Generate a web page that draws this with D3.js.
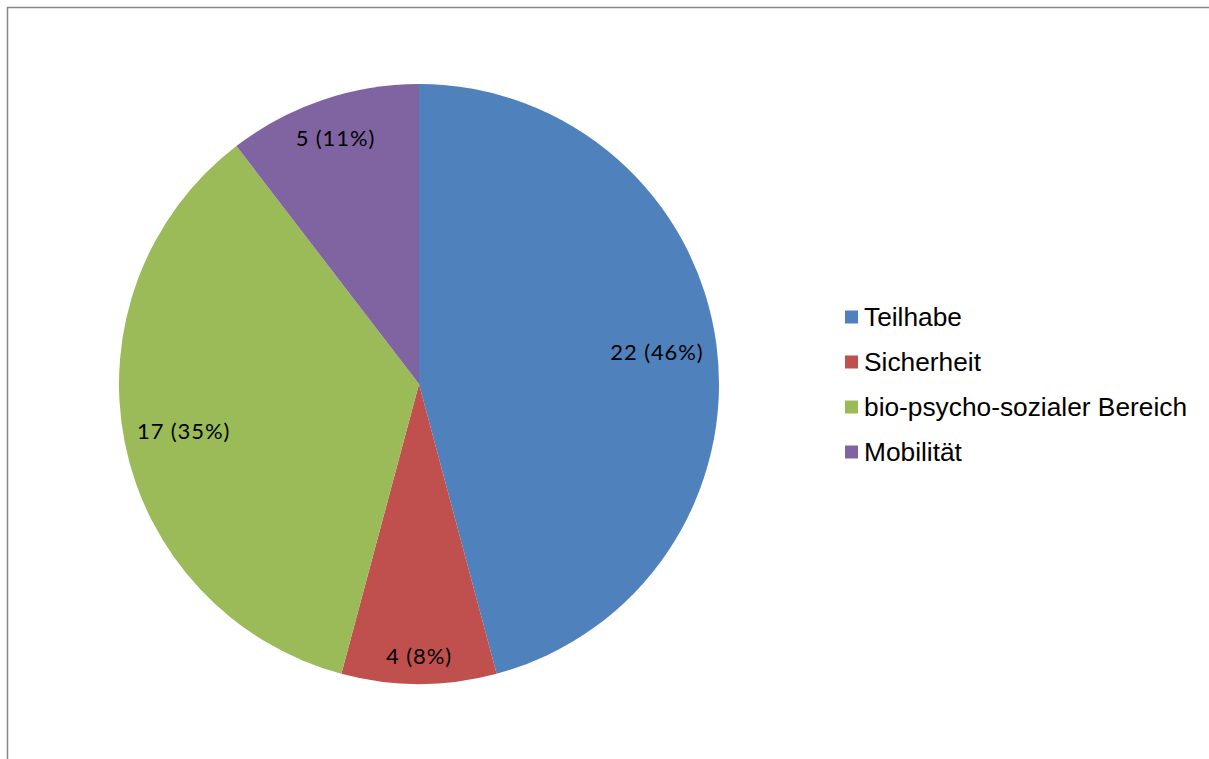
<!DOCTYPE html>
<html><head><meta charset="utf-8">
<script src="https://cdn.jsdelivr.net/npm/d3@7"></script>
<style>body{margin:0;background:#fff}svg{display:block}</style>
</head><body>
<script>
const categories = ["Teilhabe", "Sicherheit", "bio-psycho-sozialer Bereich", "Mobilität"];
const values = [22, 4, 17, 5];
const percentLabels = ["46%", "8%", "35%", "11%"];
const colors = ["#4F81BD", "#C0504D", "#9BBB59", "#8064A2"];

const W = 1209, H = 759;
const svg = d3.select("body").append("svg").attr("width", W).attr("height", H);

// frame
svg.append("rect").attr("x", 7.5).attr("y", 7.5).attr("width", W + 20).attr("height", H + 20)
  .attr("fill", "none").attr("stroke", "#878787").attr("stroke-width", 1.5);

const cx = 419, cy = 384, R = 300;
const pie = d3.pie().sort(null).value(d => d)(values);
const arc = d3.arc().innerRadius(0).outerRadius(R);
const g = svg.append("g").attr("transform", `translate(${cx},${cy})`);
g.selectAll("path").data(pie).join("path")
  .attr("d", arc).attr("fill", (d, i) => colors[i]);

g.selectAll("text").data(pie).join("text")
  .attr("transform", d => {
    const span = d.endAngle - d.startAngle;
    const r = span < 0.6 ? R - 28 : span < 0.75 ? R - 40 : R * 0.8;
    const a = (d.startAngle + d.endAngle) / 2;
    return `translate(${r * Math.sin(a)},${-r * Math.cos(a)})`;
  })
  .attr("text-anchor", "middle").attr("dy", "0.35em")
  .style("font-family", "Lato, 'Open Sans', sans-serif").style("font-size", "22px")
  .style("letter-spacing", "0.9px").attr("fill", "#000")
  .text((d, i) => `${values[i]} (${percentLabels[i]})`);

const leg = svg.append("g").attr("transform", "translate(845,317)");
const row = leg.selectAll("g").data(categories).join("g")
  .attr("transform", (d, i) => `translate(0,${i * 45})`);
row.append("rect").attr("x", 0).attr("y", -6.5).attr("width", 13).attr("height", 13)
  .attr("fill", (d, i) => colors[i]);
row.append("text").attr("x", 19).attr("dy", "0.36em")
  .style("font-family", "'Liberation Sans', Arial, sans-serif").style("font-size", "26.3px").attr("fill", "#000")
  .text(d => d);
</script>
</body></html>
